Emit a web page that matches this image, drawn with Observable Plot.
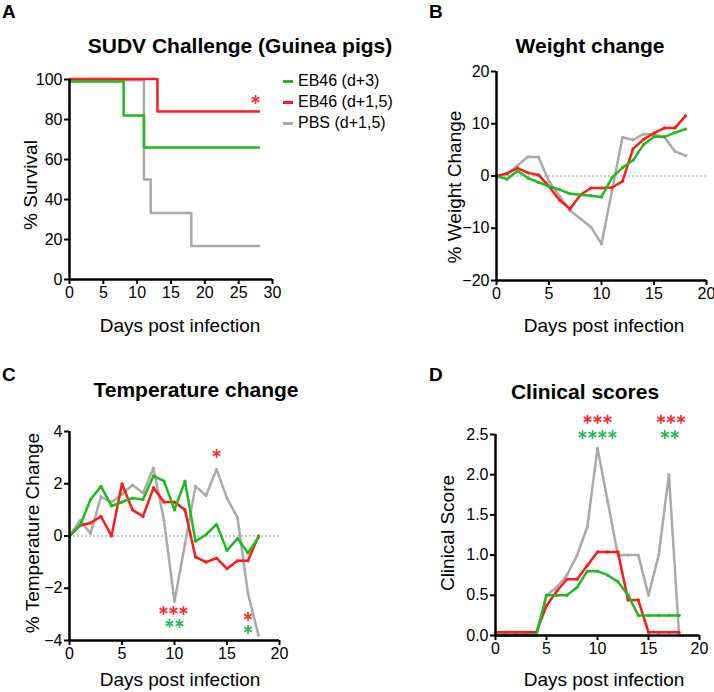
<!DOCTYPE html>
<html><head><meta charset="utf-8">
<script src="https://cdn.jsdelivr.net/npm/d3@7"></script>
<script src="https://cdn.jsdelivr.net/npm/@observablehq/plot@0.6"></script>
<style>
body{margin:0;background:#fff;font-family:"Liberation Sans",Arial,sans-serif;}
#wrap{position:relative;width:714px;height:692px;overflow:hidden;background:#fff;}
.t{position:absolute;white-space:nowrap;color:#000;line-height:1;}
.title{font-weight:bold;font-size:21px;transform:translate(-50%,-50%);}
.letter{font-weight:bold;font-size:19px;}
.xl{font-size:19px;transform:translate(-50%,-50%);}
.yl{font-size:19px;transform:translate(-50%,-50%) rotate(-90deg);}
.leg{font-size:16px;transform:translate(0,-50%);}
.sw{position:absolute;width:10px;height:3px;}
.panel{position:absolute;}
</style></head><body><div id="wrap"></div>
<script>
// ---------- data ----------
const seriesNames = ["EB46 (d+3)", "EB46 (d+1,5)", "PBS (d+1,5)"];
const seriesColors = ["#1fba1f", "#ff1a1a", "#aaaaaa"];

// Panel A: survival (step curves)
const survDays_d3 = [0, 8, 11, 28];
const surv_d3 = [99, 82, 66, 66];
const survDays_d15 = [0, 13, 28];
const surv_d15 = [100.3, 84, 84];
const survDays_pbs = [0, 11, 12, 18, 28];
const surv_pbs = [99.6, 50, 33.3, 16.7, 16.7];

// Days for time courses
const days = [0,1,2,3,4,5,6,7,8,9,10,11,12,13,14,15,16,17,18];

// Panel B: weight change
const weight_d3  = [0,-0.6,1.0,-0.4,-1.2,-2.0,-2.6,-3.4,-3.6,-3.8,-4.0,-0.3,1.6,3.0,6.0,7.5,7.5,8.3,9.0];
const weight_d15 = [0,0.5,1.5,0.6,0.2,-2.0,-4.6,-6.3,-3.6,-2.3,-2.3,-2.2,-1.0,5.2,7.0,8.2,9.2,9.2,11.5];
const weight_pbs = [0,0.3,2.0,3.7,3.6,-1.0,-3.8,-6.6,-8.2,-9.8,-13.0,-2.8,7.4,6.9,8.0,8.0,7.4,4.7,3.9];

// Panel C: temperature change
const temp_d3  = [0,0.4,1.4,1.9,1.15,1.3,1.45,1.4,2.3,2.1,1.0,2.1,-0.2,0.05,0.45,-0.55,-0.1,-0.65,-0.05];
const temp_d15 = [0,0.4,0.5,0.75,0,2.0,1.0,0.75,1.85,1.3,1.3,1.0,-0.8,-1.0,-0.85,-1.25,-0.95,-0.95,0];
const temp_pbs = [0,0.6,0.1,1.5,1.3,1.6,1.95,1.65,2.6,0.6,-2.5,-0.3,1.9,1.55,2.55,1.45,0.7,-2.2,-3.8];

// Panel D: clinical scores
const clin_d3  = [0,0,0,0,0,0.5,0.5,0.5,0.6,0.8,0.8,0.75,0.67,0.5,0.25,0.25,0.25,0.25,0.25];
const clin_d15 = [0.04,0.04,0.04,0.04,0.04,0.37,0.55,0.7,0.7,0.87,1.04,1.04,1.04,0.44,0.44,0.04,0.04,0.04,0.04];
const clin_pbs = [0.02,0.02,0.02,0.02,0.02,0.5,0.6,0.75,1.0,1.35,2.33,1.67,1.0,1.0,1.0,0.5,1.0,2.0,0];

// significance annotations: day, level, number of stars, series (0 = EB46 d+3, 1 = EB46 d+1,5)
const starsA = [{x:27.5, y:90, n:1, s:1}];
const starsC = [
  {x:9.9, y:-2.85, n:3, s:1},
  {x:10.0, y:-3.35, n:2, s:0},
  {x:14.0, y:3.16, n:1, s:1},
  {x:17.0, y:-3.08, n:1, s:1},
  {x:17.0, y:-3.58, n:1, s:0}
];
const starsD = [
  {x:10.0, y:2.69, n:3, s:1},
  {x:10.0, y:2.5, n:4, s:0},
  {x:17.2, y:2.69, n:3, s:1},
  {x:17.1, y:2.5, n:2, s:0}
];
const starColors = ["#22bb55", "#ff2a2a"];

const ticksA_x = [0,5,10,15,20,25,30], ticksA_y = [0,20,40,60,80,100];
const ticks20 = [0,5,10,15,20];
const ticksB_y = [-20,-10,0,10,20];
const ticksC_y = [-4,-2,0,2,4];
const ticksD_y = [0,0.5,1,1.5,2,2.5];

// ---------- helpers ----------
function rows(xs, ys, k){ return xs.map((x,i)=>({x, y: ys[i], k})); }
const wrap = document.getElementById("wrap");
function addText(cls, txt, x, y, extra){
  const d = document.createElement("div");
  d.className = "t " + cls; d.textContent = txt;
  d.style.left = x + "px"; d.style.top = y + "px";
  if (extra) Object.assign(d.style, extra);
  wrap.appendChild(d);
}
function frame(xdom, ydom, xticks, yticks, yfmt){
  return [
    Plot.axisX({ticks: xticks, tickSize: 5, tickPadding: 2, label: null, strokeWidth: 2}),
    Plot.axisY({ticks: yticks, tickSize: 5, tickPadding: 2, label: null, strokeWidth: 2, tickFormat: yfmt}),
    Plot.ruleX([xdom[0]], {stroke: "#000", strokeWidth: 2.5}),
    Plot.ruleY([ydom[0]], {stroke: "#000", strokeWidth: 2.5})
  ];
}
function seriesMarks(data, step){
  const m = [];
  for (let k = 2; k >= 0; k--) {
    const d = data.filter(r => r.k === k);
    m.push(Plot.line(d, {x: "x", y: "y", stroke: seriesColors[k], strokeWidth: 2.5, curve: step ? "step-after" : "linear"}));
    if (!step) m.push(Plot.dot(d, {x: "x", y: "y", r: 1.6, fill: seriesColors[k]}));
  }
  return m;
}
// each significance star is an asterisk symbol, spread horizontally around its day
function starMarks(arr){
  const m = [];
  arr.forEach(a => {
    for (let j = 0; j < a.n; j++) {
      m.push(Plot.dot([a], {x: "x", y: "y", symbol: "asterisk", r: 4.2, stroke: starColors[a.s], strokeWidth: 1.6,
        dx: (j - (a.n - 1) / 2) * 10}));
    }
  });
  return m;
}
function place(svg, left, top){
  const d = document.createElement("div");
  d.className = "panel"; d.style.left = left + "px"; d.style.top = top + "px";
  d.appendChild(svg); wrap.appendChild(d);
}
const baseStyle = {fontSize: "16px", fontFamily: "Liberation Sans, Arial, sans-serif", color: "#000", background: "transparent", overflow: "visible"};

// ---------- Panel A ----------
{
  const data = [...rows(survDays_d3, surv_d3, 0), ...rows(survDays_d15, surv_d15, 1), ...rows(survDays_pbs, surv_pbs, 2)];
  const xdom = [0, 30], ydom = [0, 100];
  const svg = Plot.plot({
    width: 295, height: 250, marginLeft: 69, marginRight: 23, marginTop: 19, marginBottom: 31,
    x: {domain: xdom}, y: {domain: ydom}, style: baseStyle,
    marks: [...seriesMarks(data, true), ...starMarks(starsA), ...frame(xdom, ydom, ticksA_x, ticksA_y)]
  });
  place(svg, 0, 60);
}
// ---------- Panel B ----------
{
  const data = [...rows(days, weight_d3, 0), ...rows(days, weight_d15, 1), ...rows(days, weight_pbs, 2)];
  const xdom = [0, 20], ydom = [-20, 20];
  const svg = Plot.plot({
    width: 314, height: 260, marginLeft: 96, marginRight: 8, marginTop: 16, marginBottom: 35,
    x: {domain: xdom}, y: {domain: ydom}, style: baseStyle,
    marks: [Plot.ruleY([0], {stroke: "#777", strokeWidth: 0.8, strokeDasharray: "2,2"}), ...seriesMarks(data, false), ...frame(xdom, ydom, ticks20, ticksB_y)]
  });
  place(svg, 400, 55);
}
// ---------- Panel C ----------
{
  const data = [...rows(days, temp_d3, 0), ...rows(days, temp_d15, 1), ...rows(days, temp_pbs, 2)];
  const xdom = [0, 20], ydom = [-4, 4];
  const svg = Plot.plot({
    width: 300, height: 270, marginLeft: 69, marginRight: 21, marginTop: 31, marginBottom: 30,
    x: {domain: xdom}, y: {domain: ydom}, style: baseStyle,
    marks: [Plot.ruleY([0], {stroke: "#777", strokeWidth: 0.8, strokeDasharray: "2,2"}), ...seriesMarks(data, false), ...starMarks(starsC), ...frame(xdom, ydom, ticks20, ticksC_y)]
  });
  place(svg, 0, 400);
}
// ---------- Panel D ----------
{
  const data = [...rows(days, clin_d3, 0), ...rows(days, clin_d15, 1), ...rows(days, clin_pbs, 2)];
  const xdom = [0, 20], ydom = [0, 2.5];
  const svg = Plot.plot({
    width: 314, height: 270, marginLeft: 95, marginRight: 15, marginTop: 34, marginBottom: 35,
    x: {domain: xdom}, y: {domain: ydom}, style: baseStyle,
    marks: [...seriesMarks(data, false), ...starMarks(starsD), ...frame(xdom, ydom, ticks20, ticksD_y, d3.format(".1f"))]
  });
  place(svg, 400, 400);
}

// ---------- text ----------
addText("letter", "A", 2, 2);
addText("letter", "B", 429, 2);
addText("letter", "C", 2, 365);
addText("letter", "D", 429, 365);

addText("title", "SUDV Challenge (Guinea pigs)", 240, 45);
addText("title", "Weight change", 590, 45);
addText("title", "Temperature change", 196, 389);
addText("title", "Clinical scores", 585, 391);

addText("xl", "Days post infection", 180, 325);
addText("xl", "Days post infection", 604, 325);
addText("xl", "Days post infection", 180, 679);
addText("xl", "Days post infection", 604, 679);

addText("yl", "% Survival", 30, 185);
addText("yl", "% Weight Change", 454, 187);
addText("yl", "% Temperature Change", 32, 533);
addText("yl", "Clinical Score", 447, 533);

// legend
const legY = [81, 102, 123];
seriesNames.forEach((n, i) => {
  const s = document.createElement("div");
  s.className = "sw"; s.style.left = "283px"; s.style.top = (legY[i] - 1.5) + "px"; s.style.background = seriesColors[i];
  wrap.appendChild(s);
  addText("leg", n, 298, legY[i]);
});
</script></body></html>
